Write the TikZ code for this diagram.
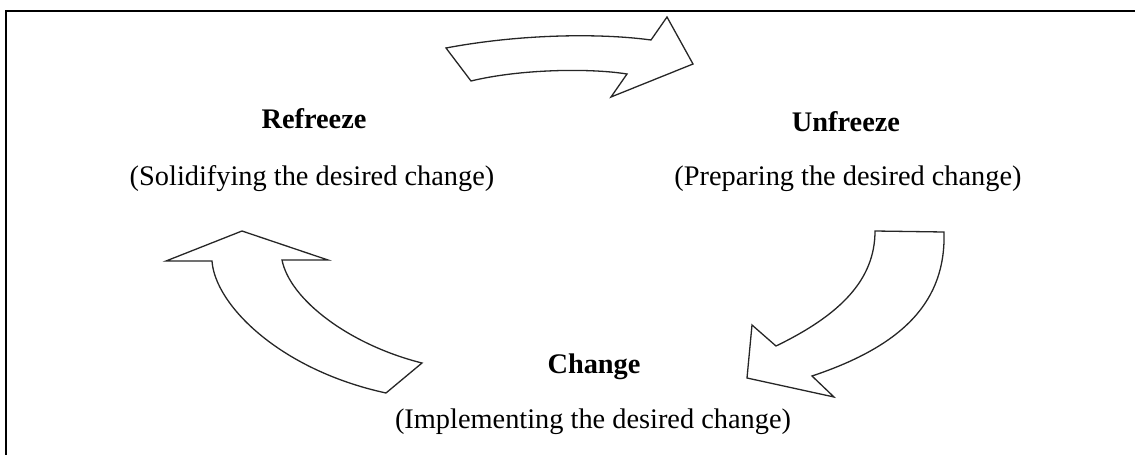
\documentclass[tikz,border=0pt]{standalone}
\usepackage{fontspec}
\setmainfont{Liberation Serif}
\tikzset{
  bigarrow/.style={draw=black!85, line width=1.3pt, fill=white, line join=miter},
  lbl/.style={anchor=base, inner sep=0pt, font=\fontsize{28.35}{34}\selectfont},
  ttl/.style={lbl, font=\fontsize{28.35}{34}\selectfont\bfseries},
  frame/.style={draw=black, line width=2.5pt}
}
\begin{document}
\begin{tikzpicture}[x=1pt,y=-1pt]
\useasboundingbox (0,0) rectangle (1135,455);
% frame (top and left)
\draw[frame] (1135,11) -- (6,11) -- (6,455);
% top arrow
\draw[bigarrow] (446,48) .. controls (520,34) and (600,33) .. (651,40)
  -- (667,17) -- (693,64) -- (611,97) -- (627,74)
  .. controls (590,68) and (520,69) .. (471,81) -- cycle;
% right arrow
\draw[bigarrow] (875,231) -- (944,232)
  .. controls (946,300) and (905,345) .. (812,376)
  -- (834,397) -- (747,378) -- (752,325) -- (776,346)
  .. controls (840,315) and (875,280) .. (875,231) -- cycle;
% left arrow
\draw[bigarrow] (242,231) -- (328,260) -- (282,260)
  .. controls (290,300) and (350,345) .. (422,363)
  -- (386,393)
  .. controls (280,370) and (215,305) .. (212,261)
  -- (166,261) -- cycle;
% texts
\node[ttl] (refreeze) at (314,128) {Refreeze};
\node[lbl] (refreezeSub) at (312,185) {(Solidifying the desired change)};
\node[ttl] (unfreeze) at (846,131) {Unfreeze};
\node[lbl] (unfreezeSub) at (848,185) {(Preparing the desired change)};
\node[ttl] (change) at (594,373) {Change};
\node[lbl] (changeSub) at (593,428) {(Implementing the desired change)};
\end{tikzpicture}
\end{document}
